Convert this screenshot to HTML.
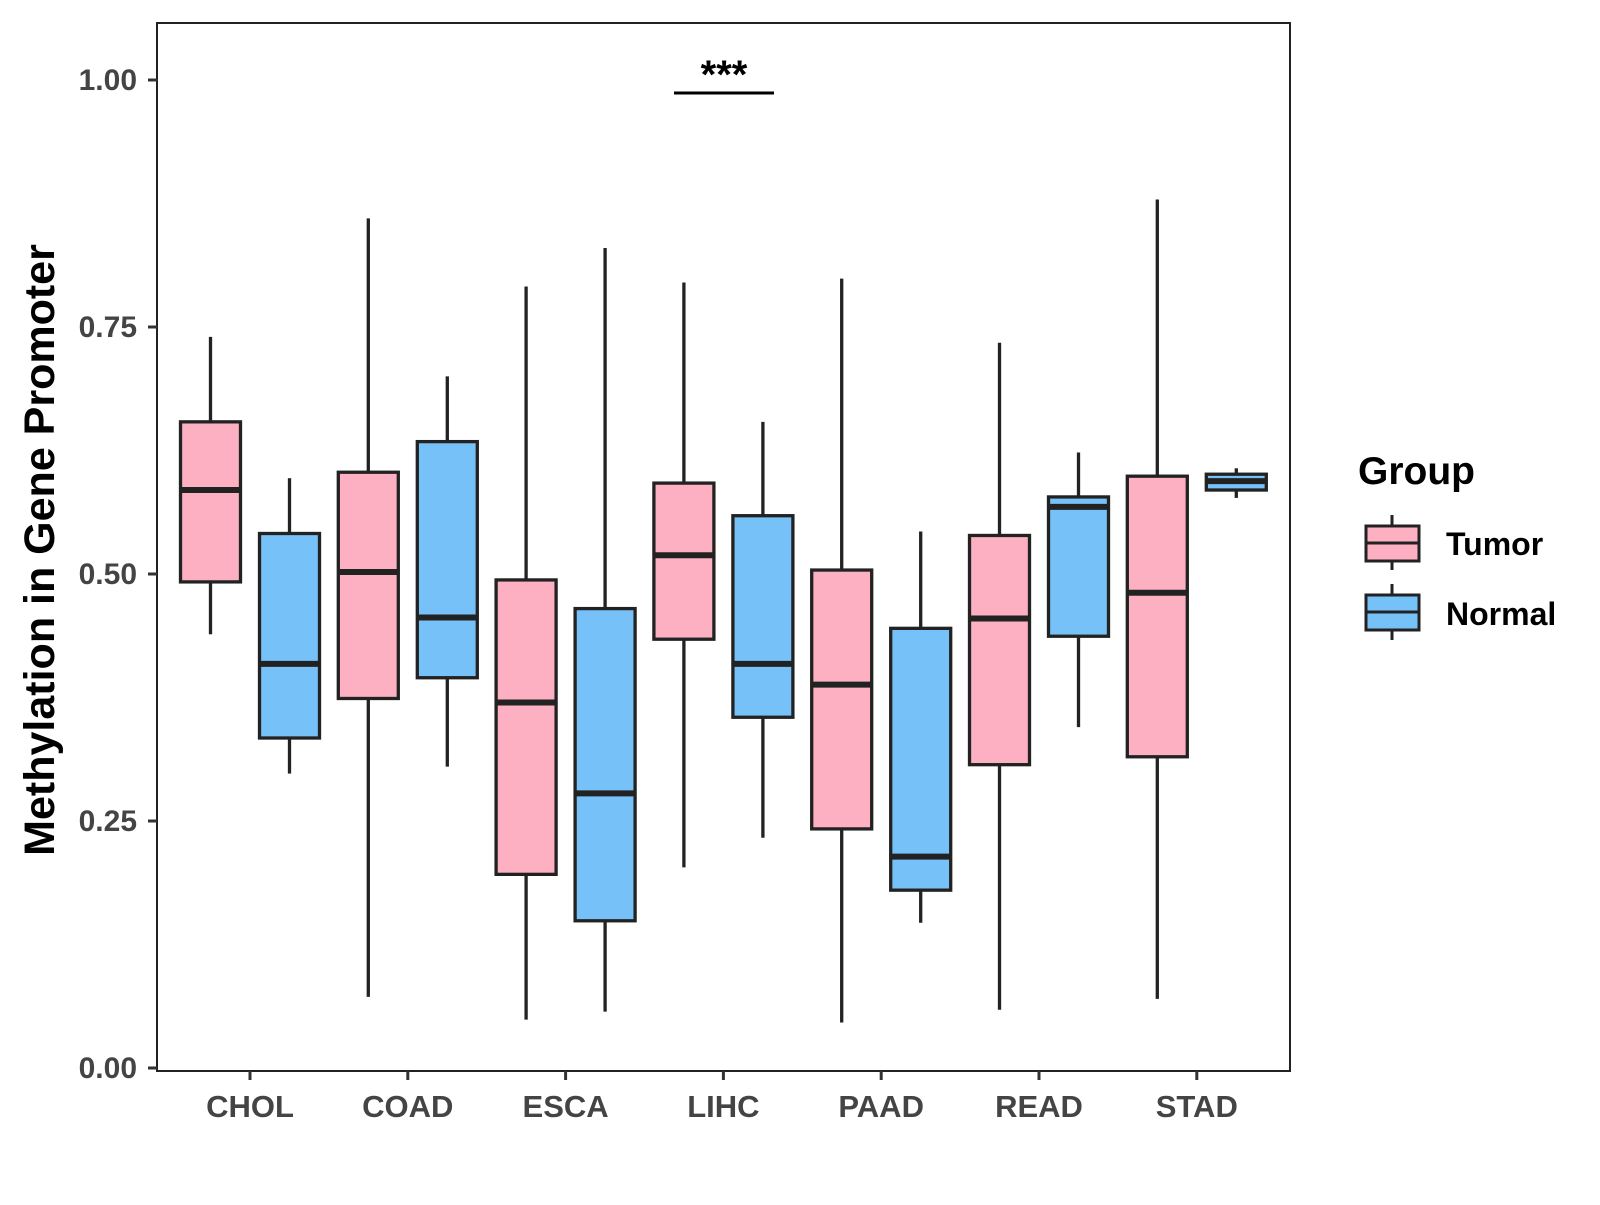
<!DOCTYPE html>
<html><head><meta charset="utf-8"><style>
html,body{margin:0;padding:0;background:#fff}
svg text{font-family:"Liberation Sans",Arial,sans-serif;font-weight:bold}
</style></head><body>
<svg id="chart" width="1600" height="1200" viewBox="0 0 1600 1200" xmlns="http://www.w3.org/2000/svg">
<rect x="157" y="23" width="1133" height="1048" fill="#fff" stroke="#222" stroke-width="2"/>
<g id="boxes"></g>
<g id="axes"></g>
<line x1="674" y1="93" x2="774" y2="93" stroke="#000" stroke-width="3"/>
<text x="724" y="88" text-anchor="middle" font-size="40" fill="#000">***</text>
<text transform="translate(54,550) rotate(-90)" text-anchor="middle" font-size="43" fill="#000">Methylation in Gene Promoter</text>
<g>
<text x="1358" y="484" font-size="39" fill="#000">Group</text>
<g>
<line x1="1392" y1="515" x2="1392" y2="570" stroke="#222" stroke-width="3"/>
<rect x="1366" y="526" width="53" height="35" fill="#FCB0C1" stroke="#222" stroke-width="3"/>
<line x1="1366" y1="543" x2="1419" y2="543" stroke="#222" stroke-width="3"/>
<text x="1446" y="555" font-size="32" fill="#000">Tumor</text></g>
<g>
<line x1="1392" y1="584" x2="1392" y2="640" stroke="#222" stroke-width="3"/>
<rect x="1366" y="595" width="53" height="35" fill="#75C1F8" stroke="#222" stroke-width="3"/>
<line x1="1366" y1="612" x2="1419" y2="612" stroke="#222" stroke-width="3"/>
<text x="1446" y="625" font-size="32" fill="#000">Normal</text></g>
</g>
</svg>
<script>
const categories=["CHOL","COAD","ESCA","LIHC","PAAD","READ","STAD"];
const yTicks=[0,0.25,0.5,0.75,1.0];
const yTickLabels=["0.00","0.25","0.50","0.75","1.00"];
// [lowerWhisker, q1, median, q3, upperWhisker]
const tumorStats=[[0.439,0.492,0.585,0.654,0.740],[0.072,0.374,0.502,0.603,0.860],[0.049,0.196,0.370,0.494,0.791],[0.203,0.434,0.519,0.592,0.795],[0.046,0.242,0.388,0.504,0.799],[0.059,0.307,0.455,0.539,0.734],[0.070,0.315,0.481,0.599,0.879]];
const normalStats=[[0.298,0.334,0.409,0.541,0.597],[0.305,0.395,0.456,0.634,0.700],[0.057,0.149,0.278,0.465,0.830],[0.233,0.355,0.409,0.559,0.654],[0.147,0.180,0.214,0.445,0.543],[0.345,0.437,0.568,0.578,0.623],[0.577,0.585,0.594,0.601,0.607]];
const NS="http://www.w3.org/2000/svg";
const y=v=>1068-v*988;
const x=i=>250+i*157.8;
function mk(tag,attrs,parent){const e=document.createElementNS(NS,tag);for(const k in attrs)e.setAttribute(k,attrs[k]);parent.appendChild(e);return e;}
const boxes=document.getElementById('boxes'),axes=document.getElementById('axes');
function drawBox(cx,s,fill,name){
  const g=mk('g',{},boxes);
  
  
  const w=60;
  mk('line',{x1:cx,x2:cx,y1:y(s[4]),y2:y(s[3]),stroke:'#222','stroke-width':3.3},g);
  mk('line',{x1:cx,x2:cx,y1:y(s[1]),y2:y(s[0]),stroke:'#222','stroke-width':3.3},g);
  mk('rect',{x:cx-w/2,y:y(s[3]),width:w,height:y(s[1])-y(s[3]),fill:fill,stroke:'#222','stroke-width':3.3},g);
  mk('line',{x1:cx-w/2,x2:cx+w/2,y1:y(s[2]),y2:y(s[2]),stroke:'#222','stroke-width':6},g);
}
categories.forEach((c,i)=>{
  drawBox(x(i)-39.5,tumorStats[i],'#FCB0C1','box-'+c.toLowerCase()+'-tumor');
  drawBox(x(i)+39.5,normalStats[i],'#75C1F8','box-'+c.toLowerCase()+'-normal');
  const t=mk('line',{x1:x(i),x2:x(i),y1:1071,y2:1080,stroke:'#333','stroke-width':3},axes);
  
  
  const l=mk('text',{x:x(i),y:1117,'text-anchor':'middle','font-size':31,fill:'#444'},axes);
  
  
  l.textContent=c;
});
yTicks.forEach((v,i)=>{
  const t=mk('line',{x1:148,x2:157,y1:y(v),y2:y(v),stroke:'#333','stroke-width':3},axes);
  
  
  const l=mk('text',{x:137,y:y(v)+10,'text-anchor':'end','font-size':30,fill:'#444'},axes);
  
  
  l.textContent=yTickLabels[i];
});
</script>
</body></html>
